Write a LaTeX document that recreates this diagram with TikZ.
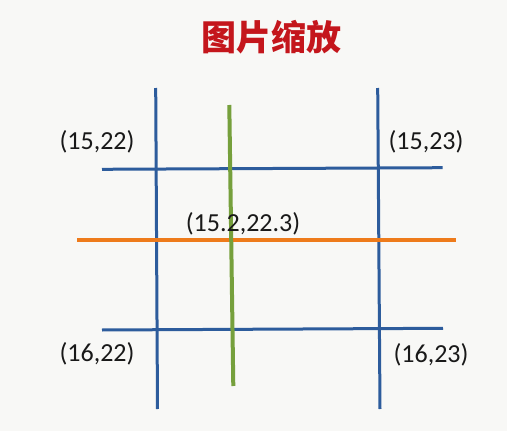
\documentclass[tikz,border=0pt]{standalone}
\usepackage{fontspec}
\setmainfont{Carlito}
\newfontfamily\cjk{Noto Sans CJK SC Black}
\definecolor{bg}{HTML}{F8F8F6}
\definecolor{gridblue}{HTML}{2D5C9C}
\definecolor{gridgreen}{HTML}{76A03C}
\definecolor{gridorange}{HTML}{EE7B1B}
\definecolor{titlered}{HTML}{C4161C}
\begin{document}
\begin{tikzpicture}[x=1pt,y=-1pt,
  blueline/.style={draw=gridblue,line width=3pt},
  greenline/.style={draw=gridgreen,line width=4pt},
  orangeline/.style={draw=gridorange,line width=3.2pt},
  coordlabel/.style={font=\fontsize{26}{30}\selectfont,inner sep=0pt,text=black!90}]
\fill[bg] (0,0) rectangle (507,431);
\useasboundingbox (0,0) rectangle (507,431);
\node[font=\cjk\fontsize{35}{38}\selectfont,text=titlered] (title) at (271,37) {图片缩放};
% endpoints
\coordinate (lvT) at (155.7,88);  \coordinate (lvB) at (157.5,409);
\coordinate (rvT) at (377.7,88);  \coordinate (rvB) at (380,409);
\coordinate (thL) at (102,169.3); \coordinate (thR) at (442.7,167.7);
\coordinate (bhL) at (102,330);   \coordinate (bhR) at (443,328.3);
\coordinate (gT) at (229.3,105);  \coordinate (gB) at (233.3,386);
\coordinate (oL) at (77,240);     \coordinate (oR) at (456,240);
\draw[blueline] (thL) -- (thR);
\draw[blueline] (bhL) -- (bhR);
\draw[blueline] (lvT) -- (lvB);
\draw[blueline] (rvT) -- (rvB);
\draw[orangeline] (oL) -- (oR);
\draw[greenline] (gT) -- (gB);
\node[coordlabel] (a) at (97,142) {(15,22)};
\node[coordlabel] (b) at (426,142) {(15,23)};
\node[coordlabel] (c) at (243,224) {(15.2,22.3)};
\node[coordlabel] (d) at (97,354) {(16,22)};
\node[coordlabel] (e) at (431,355) {(16,23)};
\end{tikzpicture}
\end{document}
